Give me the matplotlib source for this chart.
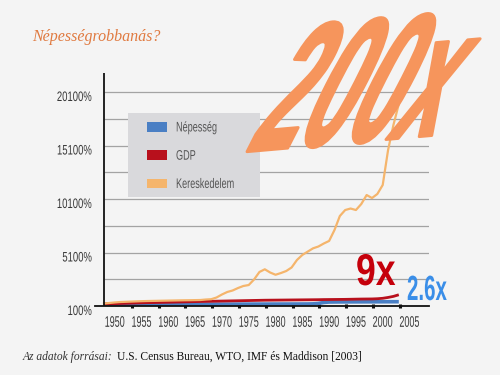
import numpy as np
import matplotlib.pyplot as plt
from matplotlib import patheffects
from matplotlib.transforms import Affine2D
from matplotlib.patches import Patch, Rectangle

# --- data (index in %) ---
years = list(range(1948, 2004))

nepesseg = [240, 242, 244, 246, 248, 250, 252, 254, 256, 258,
            260, 261, 262, 263, 264, 265, 266, 267, 268, 269,
            270, 271, 272, 273, 274, 275, 276, 277, 278, 279,
            280, 281, 282, 283, 284, 285, 286, 288, 290, 300,
            340, 430, 470, 475, 480, 482, 484, 486, 488, 490,
            492, 494, 496, 498, 500, 500]

gdp = [290, 305, 320, 335, 350, 365, 380, 395, 410, 420,
       430, 440, 450, 462, 474, 486, 498, 510, 520, 530,
       540, 550, 560, 570, 580, 590, 600, 610, 620, 630,
       640, 645, 650, 655, 660, 665, 670, 675, 680, 685,
       690, 700, 705, 710, 715, 720, 730, 740, 750, 755,
       760, 780, 820, 900, 1000, 1150]

kereskedelem = [330, 380, 430, 470, 490, 510, 530, 550, 565, 575,
                585, 595, 605, 615, 625, 635, 640, 650, 660, 705,
                735, 895, 1175, 1410, 1550, 1780, 1970, 2060, 2580, 3280,
                3530, 3230, 3020, 3180, 3370, 3700, 4400, 4870, 5180, 5490,
                5660, 5940, 6180, 7200, 8510, 9070, 9210, 9070, 9630, 10470,
                10190, 10570, 11410, 14680, 17020, 18980]

ytick_vals = [100, 5100, 10100, 15100, 20100]
ytick_labels = ['100%', '5100%', '10100%', '15100%', '20100%']
grid_vals = list(range(2600, 20101, 2500))
label_years = list(range(1950, 2006, 5))
dot_ticks = [1953.2 + 5 * k for k in range(11)]

series_names = ['Népesség', 'GDP', 'Kereskedelem']
series_colors = ['#4a7fc4', '#b8101c', '#f5b56c']


class Stretch(patheffects.AbstractPathEffect):
    """squeeze / stretch / shear / rotate glyphs (the text stays a Text)"""
    def __init__(self, sx=1.0, sy=1.0, shear=0.0, angle=0.0, pivot='left', lw=0):
        super().__init__()
        self.sx, self.sy, self.shear, self.angle = sx, sy, shear, angle
        self.pivot, self.lw = pivot, lw

    def draw_path(self, renderer, gc, tpath, affine, rgbFace=None):
        ox, oy = affine.transform((0, 0))
        if self.pivot != 'left':
            ext = tpath.get_extents(affine)
            ox = ext.x1 if self.pivot == 'right' else (ext.x0 + ext.x1) / 2
        extra = (Affine2D().translate(-ox, -oy).scale(self.sx, self.sy)
                 .skew_deg(self.shear, 0).rotate_deg(self.angle)
                 .translate(ox, oy))
        if self.lw:
            gc0 = renderer.new_gc()
            gc0.copy_properties(gc)
            gc0.set_linewidth(self.lw)
            gc0.set_foreground(rgbFace)
            gc0.set_joinstyle('round')
            renderer.draw_path(gc0, tpath, affine + extra, rgbFace)
            gc0.restore()
        else:
            renderer.draw_path(gc, tpath, affine + extra, rgbFace)


sans = 'Liberation Sans'
W, H = 500, 375

fig = plt.figure(figsize=(5, 3.75), dpi=100, facecolor='#f4f4f4')
ax = fig.add_axes([95 / W, 1 - 306 / H, (429 - 95) / W, (306 - 73) / H])
ax.set_facecolor('none')

px_year = 5.36
ax.set_xlim(1948 - 9 / px_year, 1948 + (429 - 104) / px_year)
ax.set_ylim(100, 100 + 233 * 2500 / 26.75)

ax.hlines(grid_vals, 1948, ax.get_xlim()[1], color='#a3a3a3', lw=0.9, zorder=1)
ax.axvline(1948, color='#111111', lw=1.3, zorder=4)

ax.plot(years, nepesseg, color=series_colors[0], lw=2.6, zorder=2,
        solid_capstyle='butt')
ax.plot(years, gdp, color=series_colors[1], lw=2.0, zorder=2.5,
        solid_capstyle='butt')
ax.plot(years, kereskedelem, color=series_colors[2], lw=1.6, zorder=3)

for s in ['left', 'top', 'right']:
    ax.spines[s].set_visible(False)
ax.spines['bottom'].set_color('#111111')
ax.spines['bottom'].set_linewidth(1.3)

ax.set_yticks(ytick_vals)
ax.set_yticklabels(ytick_labels, family=sans, fontsize=9, color='#383838')
plt.setp(ax.get_yticklabels(), va='top',
         path_effects=[Stretch(sx=0.76, sy=1.1, pivot='right')])
ax.tick_params(axis='y', length=0, pad=2)

ax.set_xticks(label_years)
ax.set_xticklabels([str(y) for y in label_years], family=sans, fontsize=8.3,
                   color='#383838')
plt.setp(ax.get_xticklabels(),
         path_effects=[Stretch(sx=0.78, sy=1.33, pivot='center')])
ax.set_xticks(dot_ticks, minor=True)
ax.tick_params(axis='x', which='major', length=0, pad=8.5)
ax.tick_params(axis='x', which='minor', length=3, width=2.2,
               direction='inout', color='#111111')

# legend box
fig.patches.append(Rectangle((128 / W, 1 - 197 / H), 132 / W, 84 / H,
                             transform=fig.transFigure, facecolor='#d9d9dc',
                             edgecolor='none', zorder=1))
handles = [Patch(facecolor=c, edgecolor='none') for c in series_colors]
leg = fig.legend(handles, series_names, loc='upper left',
                 bbox_to_anchor=(147 / W, 1 - 122 / H), frameon=False,
                 handlelength=1.5, handleheight=0.75, handletextpad=0.7,
                 labelspacing=1.2, borderpad=0, borderaxespad=0,
                 prop={'family': sans, 'size': 9.5}, labelcolor='#555555')
leg.set_zorder(2)
for t in leg.get_texts():
    t.set_path_effects([Stretch(sx=0.69, sy=1.05)])

# title and source
fig.text(32 / W, 1 - 37 / H, 'Népességrobbanás?', family='Liberation Serif',
         style='italic', fontsize=11.5, color='#e07a40', va='center')
t1 = fig.text(23 / W, 1 - 357 / H, 'Az adatok forrásai:', family='Liberation Serif',
              style='italic', fontsize=8.3, color='#333333', va='center')
ax.annotate('U.S. Census Bureau, WTO, IMF és Maddison [2003]', xy=(1, 0.5),
            xycoords=t1, xytext=(3, 0), textcoords='offset points',
            family='Liberation Serif', fontsize=8.3, color='#111111',
            va='center', annotation_clip=False)

# big growth labels
fig.text(244 / W, 1 - 152 / H, '200x', family=sans, weight='bold',
         fontsize=68, color='#f6955c', ha='left', va='baseline', zorder=5,
         path_effects=[Stretch(sx=0.9, sy=1.85, shear=32, angle=5, lw=2)])
fig.text(356 / W, 1 - 285 / H, '9x', family=sans, weight='bold',
         fontsize=32, color='#c5000b', ha='left', va='baseline', zorder=5,
         path_effects=[Stretch(sx=0.8)])
fig.text(407 / W, 1 - 300 / H, '2.6x', family=sans, weight='bold',
         fontsize=18, color='#3a8ee8', ha='left', va='baseline', zorder=5,
         path_effects=[Stretch(sx=0.82, sy=1.4)])

fig.savefig('out.png', dpi=100, facecolor=fig.get_facecolor())
